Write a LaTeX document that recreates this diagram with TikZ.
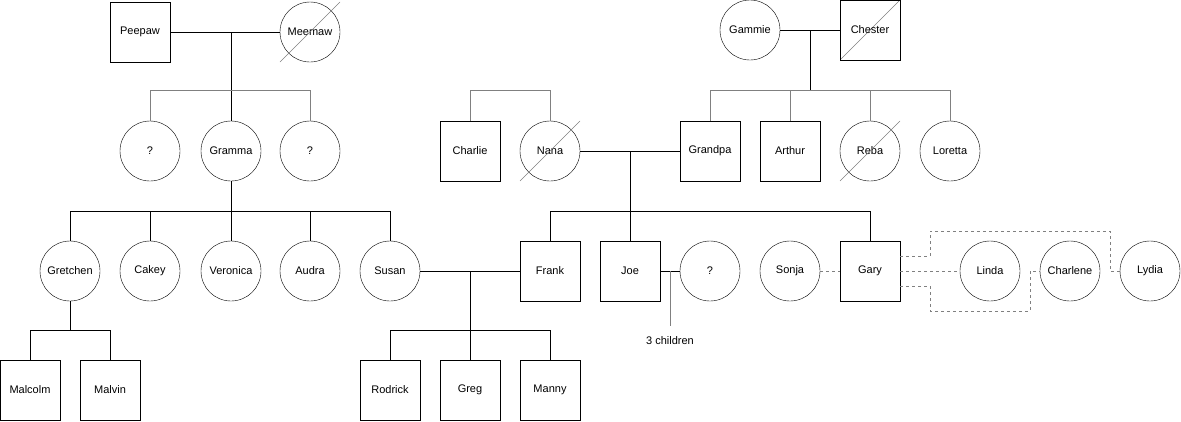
\documentclass[tikz,border=0pt]{standalone}
\usepackage{fontspec}
\setmainfont{Liberation Sans}
\begin{document}
\begin{tikzpicture}[x=1pt, y=-1pt, font=\fontsize{11}{13}\selectfont,
    male/.style={rectangle, draw, minimum size=60pt, inner sep=0pt},
    female/.style={circle, draw, minimum size=60pt, inner sep=0pt},
    dead/.style={path picture={\draw[gray] (path picture bounding box.south west) -- (path picture bounding box.north east);}},
    sib/.style={draw=gray},
    ex/.style={draw=gray, dashed}]
    \useasboundingbox (0,0) rectangle (1181,421);

    % Generation 1
    \node[male]   at (140, 32)  (peepaw)  {Peepaw};
    \node[female] at (310, 32)  (meemaw)  {Meemaw};
    \draw[gray] (280,62) -- (340,2);
    \node[female] at (750, 30)  (gammie)  {Gammie};
    \node[male, dead] at (870, 30)  (chester) {Chester};

    % Generation 2
    \node[female] at (150, 151) (q1)      {?};
    \node[female] at (231, 151) (gramma)  {Gramma};
    \node[female] at (310, 151) (q2)      {?};
    \node[male]   at (470, 151) (charlie) {Charlie};
    \node[female] at (550, 151) (nana)    {Nana};
    \draw[gray] (520,181) -- (580,121);
    \node[male]   at (710, 151) (grandpa) {Grandpa};
    \node[male]   at (790, 151) (arthur)  {Arthur};
    \node[female] at (870, 151) (reba)    {Reba};
    \draw[gray] (840,181) -- (900,121);
    \node[female] at (950, 151) (loretta) {Loretta};

    % Generation 3
    \node[female] at (70, 271)  (gretchen) {Gretchen};
    \node[female] at (150, 271) (cakey)    {Cakey};
    \node[female] at (231, 271) (veronica) {Veronica};
    \node[female] at (310, 271) (audra)    {Audra};
    \node[female] at (390, 271) (susan)    {Susan};
    \node[male]   at (550, 271) (frank)    {Frank};
    \node[male]   at (630, 271) (joe)      {Joe};
    \node[female] at (710, 271) (q3)       {?};
    \node[female] at (790, 271) (sonja)    {Sonja};
    \node[male]   at (870, 271) (gary)     {Gary};
    \node[female] at (990, 271) (linda)    {Linda};
    \node[female] at (1070, 271) (charlene) {Charlene};
    \node[female] at (1150, 271) (lydia)   {Lydia};

    % Generation 4
    \node[male] at (30, 390)  (malcolm) {Malcolm};
    \node[male] at (110, 390) (malvin)  {Malvin};
    \node[male] at (390, 390) (rodrick) {Rodrick};
    \node[male] at (470, 390) (greg)    {Greg};
    \node[male] at (550, 390) (manny)   {Manny};

    % Couples
    \draw (peepaw) -- (meemaw);
    \draw (gammie) -- (chester);
    \draw (nana) -- (grandpa);
    \draw (susan) -- (frank);
    \draw (joe) -- (q3);
    \draw[ex] (sonja) -- (gary);
    \draw[ex] (gary) -- (linda);
    \draw[ex] (gary.east |- 0,256) -- (930,256) -- (930,231) -- (1110,231) -- (1110,271) -- (lydia);
    \draw[ex] (gary.east |- 0,286) -- (930,286) -- (930,311) -- (1030,311) -- (1030,271) -- (charlene);

    % Children
    \draw (231,32) -- (gramma);
    \draw[sib] (q1) -- (150,90) -- (310,90) -- (q2);
    \draw (810,30) -- (810,90);
    \draw[sib] (grandpa) -- (710,90) -- (950,90) -- (loretta);
    \draw[sib] (arthur) -- (790,90);
    \draw[sib] (reba) -- (870,90);
    \draw[sib] (charlie) -- (470,90) -- (550,90) -- (nana);

    \draw (gramma) -- (231,211);
    \draw (gretchen) -- (70,211) -- (390,211) -- (susan);
    \foreach \n/\x in {cakey/150, veronica/231, audra/310} \draw (\n) -- (\x,211);
    \draw (630,151) -- (joe);
    \draw (frank) -- (550,211) -- (870,211) -- (gary);

    \draw (gretchen) -- (70,330);
    \draw (malcolm) -- (30,330) -- (110,330) -- (malvin);
    \draw (470,271) -- (greg);
    \draw (rodrick) -- (390,330) -- (550,330) -- (manny);

    \draw[gray] (670,271) -- (670,326) node[below=7pt, black] (kids) {3 children};
\end{tikzpicture}
\end{document}
